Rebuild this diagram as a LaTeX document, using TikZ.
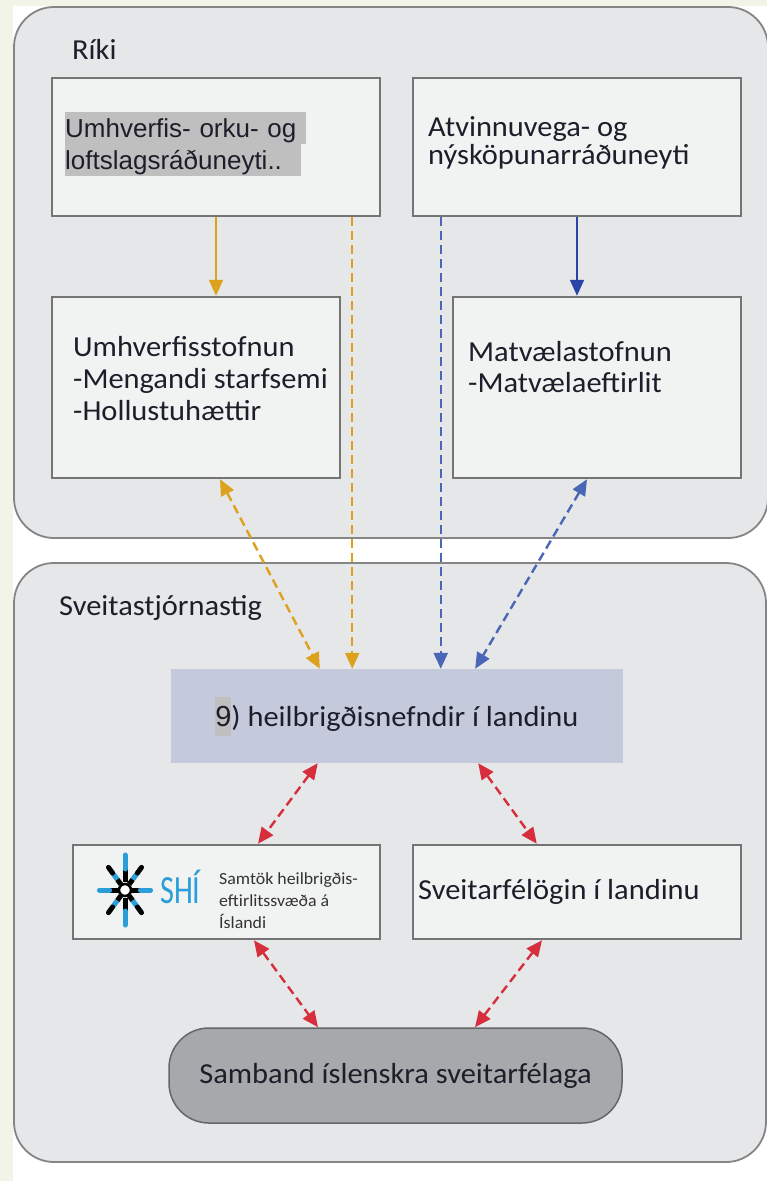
\documentclass[tikz,border=0pt]{standalone}
\usepackage{fontspec}
\usepackage{graphicx}
\setmainfont{Carlito}[FakeStretch=1.05]
\newfontfamily\arialfont{Liberation Sans}
\usetikzlibrary{arrows.meta}
\definecolor{bgreen}{HTML}{F2F4E8}
\definecolor{panel}{HTML}{E6E7E9}
\definecolor{panelline}{HTML}{858585}
\definecolor{boxfill}{HTML}{F1F2F2}
\definecolor{boxline}{HTML}{747474}
\definecolor{hlgray}{HTML}{BFBFBF}
\definecolor{heilfill}{HTML}{C4C9DC}
\definecolor{sambfill}{HTML}{A7A8AB}
\definecolor{gold}{HTML}{DEA11E}
\definecolor{navy}{HTML}{2944A6}
\definecolor{navyd}{HTML}{4A66B6}
\definecolor{redd}{HTML}{D62E3C}
\definecolor{shiblue}{HTML}{2A9ED8}
\definecolor{ink}{HTML}{1E1E2A}
\newcommand{\hlnine}{{\setlength{\fboxsep}{0pt}\colorbox{hlgray}{\arialfont\rule[-9pt]{0pt}{39pt}9}}}

\begin{document}
\begin{tikzpicture}[x=1pt, y=-1pt,
  every node/.style={inner sep=0pt, text=ink},
  box/.style={draw=boxline, fill=boxfill, line width=2.5pt},
  txt/.style={font=\fontsize{29}{#1}\selectfont, align=left},
  txt/.default=32,
  hl/.style={fill=hlgray, anchor=north west, text width=#1, align=left, text height=25.5pt, text depth=6.5pt, font=\arialfont\fontsize{26}{30}\selectfont},
  tip/.style={-{Triangle[length=16pt,width=14pt]}},
  both/.style={{Triangle[length=16pt,width=14pt]}-{Triangle[length=16pt,width=14pt]}},
  dsh/.style={line width=2.4pt, dash pattern=on 9pt off 5pt},
  spoke/.style={line width=5pt}]
\fill[bgreen] (0,0) rectangle (767,1181);
\fill[white] (13,6) rectangle (767,1181);
\useasboundingbox (0,0) rectangle (767,1181);
\draw[panelline, fill=panel, line width=1.8pt, rounded corners=40pt] (14,7) rectangle (768,538);
\draw[panelline, fill=panel, line width=1.8pt, rounded corners=40pt] (14,563) rectangle (766,1162);
\node[txt, anchor=base west] (riki) at (72,59) {Ríki};
\node[txt, anchor=base west] (sveitst) at (59,615) {Sveitastjórnastig};
\node[box, minimum width=328pt, minimum height=138pt] (uol) at (216,147) {};
\node[box, minimum width=328pt, minimum height=138pt] (atv) at (577,147) {};
\node[box, minimum width=288pt, minimum height=181pt] (ust) at (196,387.5) {};
\node[box, minimum width=288pt, minimum height=181pt] (mast) at (597,387.5) {};
\node[fill=heilfill, minimum width=452pt, minimum height=94pt, font=\fontsize{29}{32}\selectfont] (heil) at (397,716) {\hlnine) heilbrigðisnefndir í landinu};
\node[box, minimum width=307pt, minimum height=94pt] (shi) at (226.5,892) {};
\node[box, minimum width=328pt, minimum height=94pt] (sveit) at (577,892) {};
\node[draw=black!60, fill=sambfill, line width=1.5pt, rounded corners=40pt, minimum width=453pt, minimum height=95pt, font=\fontsize{29}{32}\selectfont] (samb) at (395.5,1075.5) {Samband íslenskra sveitarfélaga};
\node[hl=241pt] (uol1) at (65,112) {Umhverfis- orku- og};
\node[hl=236pt] (uol2) at (65,144) {loftslagsráðuneyti..};
\node[txt=28, anchor=north west] (atvtxt) at (428,116.5) {Atvinnuvega- og\\nýsköpunarráðuneyti};
\node[txt, anchor=north west] (usttxt) at (73,336.5) {Umhverfisstofnun\\-Mengandi starfsemi\\-Hollustuhættir};
\node[txt=31, anchor=north west] (masttxt) at (468,341.5) {Matvælastofnun\\-Matvælaeftirlit};
\node[txt, anchor=base west] (sveittxt) at (418,899) {Sveitarfélögin í landinu};
\node[anchor=base west, text=shiblue] (shiname) at (160,903) {\scalebox{0.72}[1]{\fontsize{40}{40}\selectfont SHÍ}};
\node[anchor=north west, align=left, text=black!80, font=\fontsize{17}{22}\selectfont] (shitxt) at (219,872) {Samtök heilbrigðis-\\eftirlitssvæða á\\Íslandi};
\begin{scope}[shift={(125,890)}]
\foreach \a in {0,90,180,270}{
  \draw[spoke, black, xscale=0.73] (\a:8) -- (\a:21);
  \draw[spoke, shiblue, line cap=round, xscale=0.73] (\a:21) -- (\a:35);
}
\foreach \a in {45,135,225,315}{
  \draw[spoke, black, xscale=0.73] (\a:8) -- (\a:15);
  \draw[spoke, shiblue, xscale=0.73] (\a:15) -- (\a:24);
  \draw[spoke, black, line cap=round, xscale=0.73] (\a:24) -- (\a:32);
}
\draw[black, line width=2.5pt, fill=white] (0,0) circle (6);
\end{scope}
\coordinate (ydash) at ([xshift=-29pt]uol.south east);
\coordinate (bdash) at ([xshift=29pt]atv.south west);
\draw[gold, line width=2pt, tip] (uol.south) -- (uol.south |- ust.north);
\draw[navy, line width=2pt, tip] (atv.south) -- (atv.south |- mast.north);
\draw[gold, dsh, tip] (ydash) -- (ydash |- heil.north);
\draw[navyd, dsh, tip] (bdash) -- (bdash |- heil.north);
\draw[gold, dsh, both] ([xshift=24pt]ust.south) -- ([xshift=149pt]heil.north west);
\draw[navyd, dsh, both] ([xshift=-10pt]mast.south) -- ([xshift=-148pt]heil.north east);
\draw[redd, dsh, both] ([xshift=147pt]heil.south west) -- ([xshift=31.5pt]shi.north);
\draw[redd, dsh, both] ([xshift=-145pt]heil.south east) -- ([xshift=125pt]sveit.north west);
\draw[redd, dsh, both] ([xshift=27.5pt]shi.south) -- ([xshift=-77.5pt]samb.north);
\draw[redd, dsh, both] ([xshift=-35pt]sveit.south) -- ([xshift=79.5pt]samb.north);
\end{tikzpicture}
\end{document}
